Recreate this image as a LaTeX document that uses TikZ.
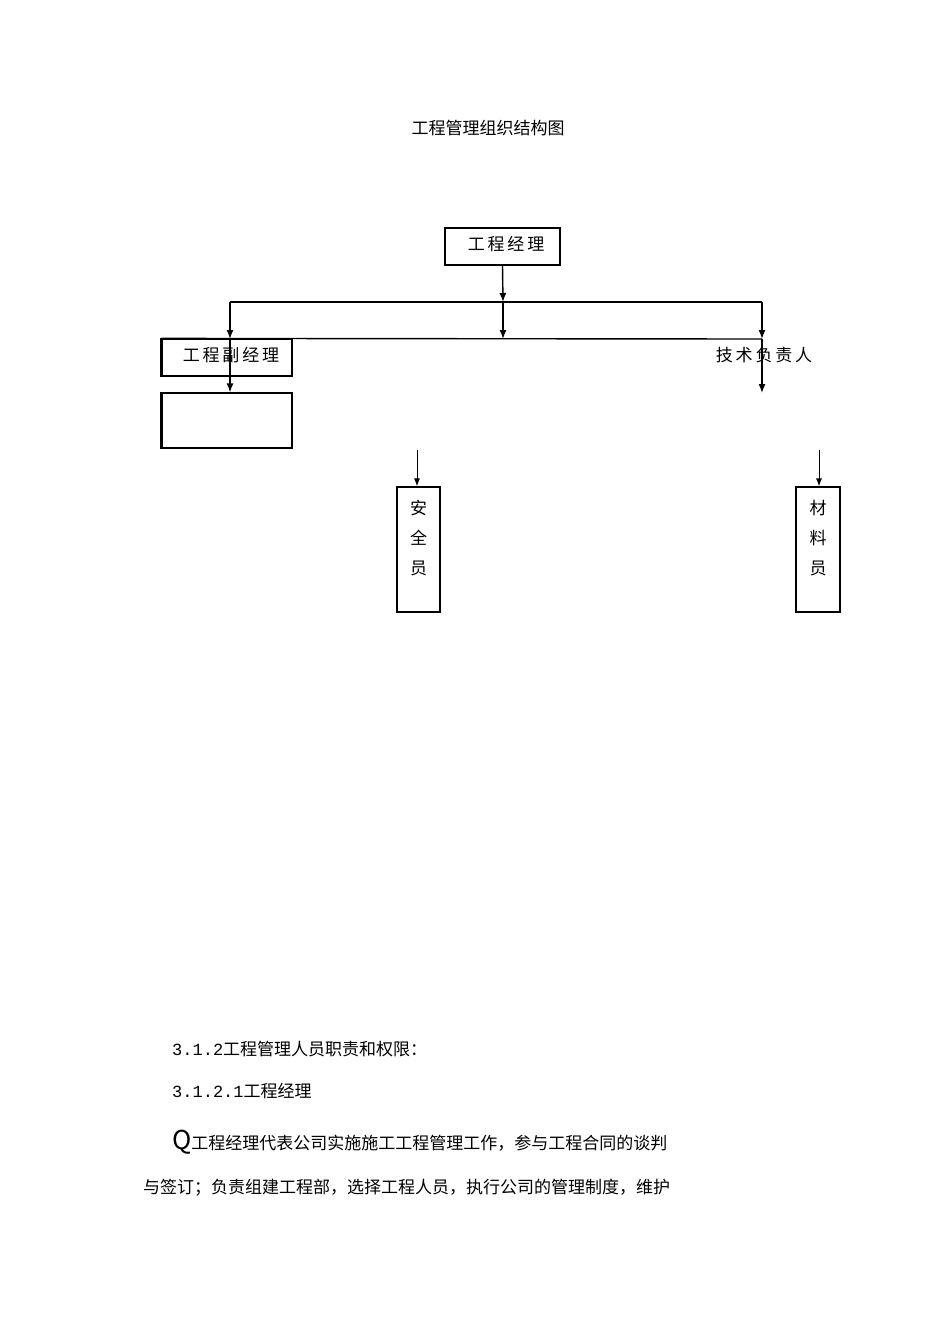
\documentclass[tikz,border=0pt]{standalone}
\usepackage{fontspec}
\usetikzlibrary{arrows.meta}
\setmainfont{Noto Sans CJK SC}
\newfontfamily\monof{Liberation Mono}
\begin{document}
\begin{tikzpicture}[x=1pt,y=-1pt,
  bx/.style={draw,line width=1.2pt,inner sep=0pt},
  ln/.style={line width=1.4pt},
  arr/.style={ln,-{Latex[length=9pt,width=7pt]}},
  lbl/.style={font=\fontsize{17}{20}\selectfont,inner sep=0pt}]
\useasboundingbox (0,0) rectangle (950,1344);
\node[lbl] (title) at (488,128) {工程管理组织结构图};
\node[bx,minimum width=115pt,minimum height=37pt] (pm) at (502.5,246.5) {};
\node[lbl] at (506,244) {工\,程\,经\,理};
\coordinate (j1) at (503,302);
\coordinate (j2) at (503,339);
\coordinate (hl) at (230,302);
\coordinate (hr) at (762,302);
\draw[arr] (pm.south) -- (j1);
\draw[arr] (j1) -- (j2);
\draw[ln] (hl) -- (hr);
\node[bx,minimum width=130pt,minimum height=37pt] (dpm) at (227,357.5) {};
\draw[line width=2.5pt] (dpm.north west) -- (dpm.south west);
\node[lbl] at (231,355) {工\,程\,副\,经\,理};
\draw[ln] (dpm.north west) -- (762,339);
\node[bx,minimum width=130pt,minimum height=55pt] (empty) at (227,420.5) {};
\draw[line width=2.5pt] (empty.north west) -- (empty.south west);
\coordinate (l1) at (230,339);
\coordinate (r1) at (762,339);
\coordinate (r2) at (762,393);
\draw[arr] (hl) -- (l1);
\draw[arr] (l1) -- (empty.north -| l1);
\draw[arr] (hr) -- (r1);
\node[lbl] (tech) at (764,355) {技\,术\,负\,责\,人};
\draw[arr] (r1) -- (r2);
\node[bx,minimum width=43pt,minimum height=125pt] (safe) at (418.5,549.5) {};
\node[lbl,align=center] at (418.5,538) {安\\[10pt]全\\[10pt]员};
\node[bx,minimum width=44pt,minimum height=125pt] (mat) at (818,549.5) {};
\node[lbl,align=center] at (818,538) {材\\[10pt]料\\[10pt]员};
\coordinate (s0) at (417,450);
\coordinate (m0) at (819,450);
\draw[line width=1pt,-{Latex[length=8pt,width=6pt]}] (s0) -- (safe.north -| s0);
\draw[line width=1pt,-{Latex[length=8pt,width=6pt]}] (m0) -- (mat.north -| m0);
\node[lbl,anchor=west] (t1) at (172,1049) {{\monof 3.1.2}工程管理人员职责和权限：};
\node[lbl,anchor=west] (t2) at (172,1091) {{\monof 3.1.2.1}工程经理};
\node[lbl,anchor=west] (t3) at (172,1142) {{\fontsize{26}{26}\selectfont Q}工程经理代表公司实施施工工程管理工作，参与工程合同的谈判};
\node[lbl,anchor=west] (t4) at (143,1188) {与签订；负责组建工程部，选择工程人员，执行公司的管理制度，维护};
\end{tikzpicture}
\end{document}
